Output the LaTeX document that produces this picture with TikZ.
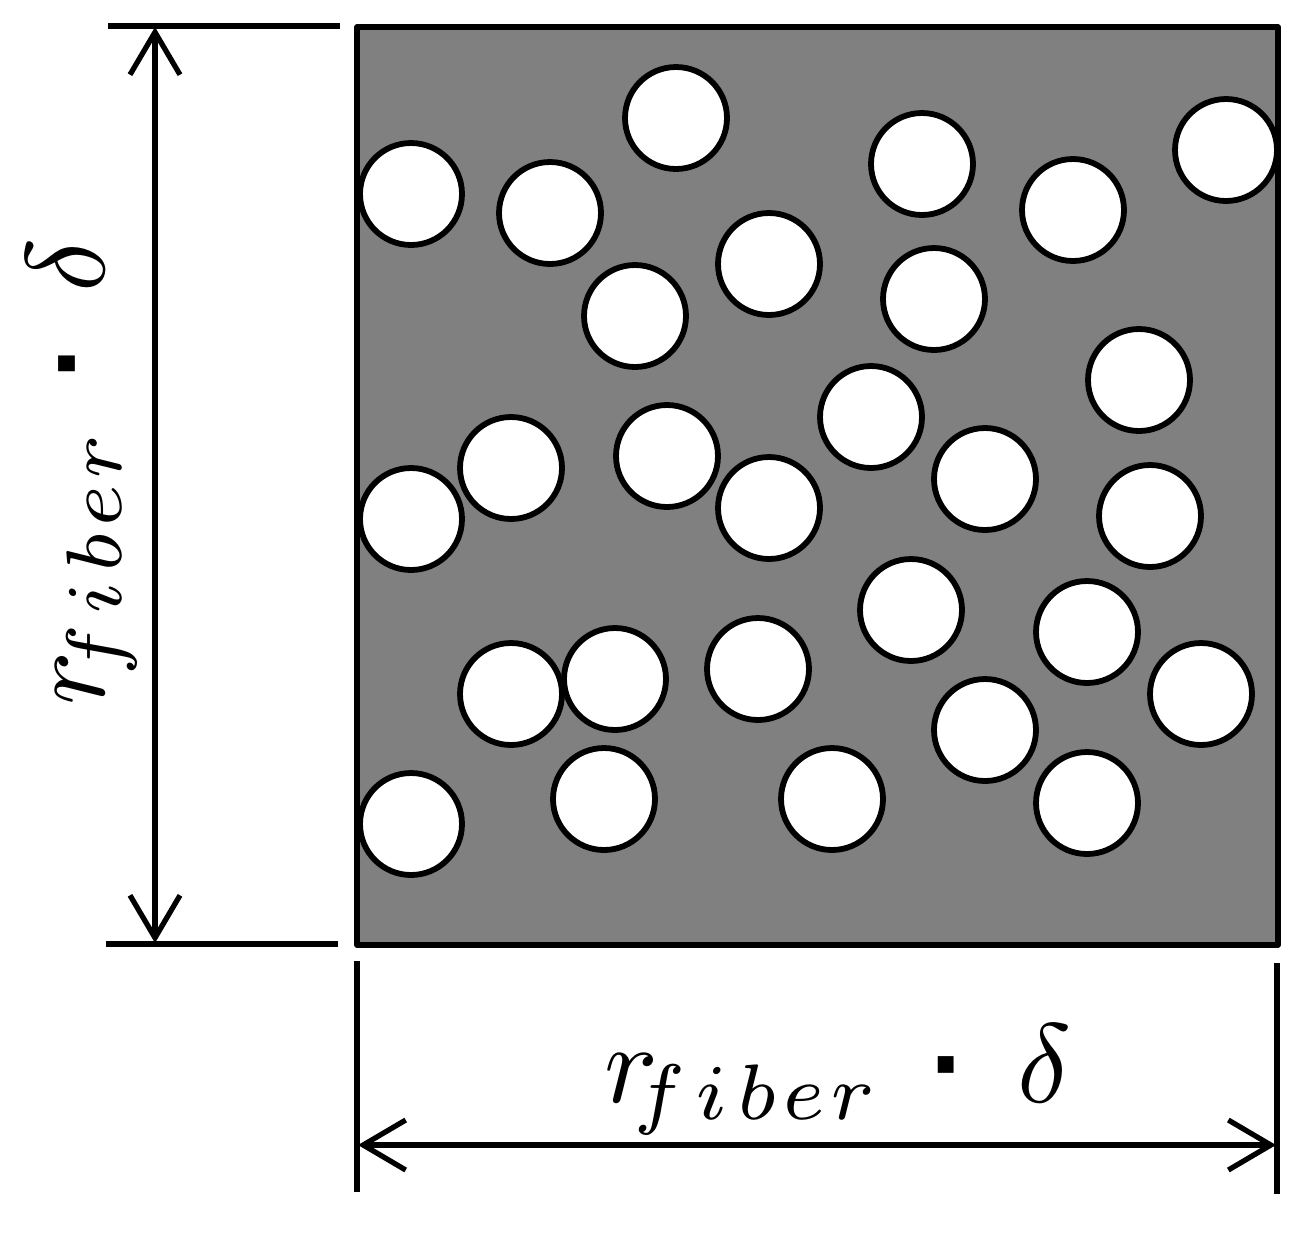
\documentclass[tikz,border=0pt]{standalone}
\usepackage{fontspec}
\newfontfamily\dotfont{Liberation Sans}
\usetikzlibrary{arrows.meta}
\newcommand{\dimtext}{$r\mkern-4mu_{f\mkern2mu i\mkern2mu b\mkern1mu e\mkern1mu r}\mkern8mu\mbox{\dotfont\bfseries ·}\mkern8mu\delta$}
\tikzset{
    fiber/.style={circle,draw,fill=white,line width=3.3pt,inner sep=0pt,minimum size=2.04cm},
    dimline/.style={line width=3pt},
    dimarrow/.style={line width=3pt,{Straight Barb[length=0.85cm,width=1cm]}-{Straight Barb[length=0.85cm,width=1cm]}},
    dimlabel/.style={inner sep=0pt,scale=6.4}
}
\begin{document}
\begin{tikzpicture}[x=0.02cm,y=-0.02cm]
        \useasboundingbox (0,0) rectangle (1304,1232);
        \draw[dimline,fill={rgb,255:red,128;green,128;blue,128},line join=round] (357,27) rectangle (1278,945);

        \node[fiber] (f1) at (676,118) {};
        \node[fiber] (f2) at (922,164) {};
        \node[fiber] (f3) at (1073,210) {};
        \node[fiber] (f4) at (1226,150) {};
        \node[fiber] (f5) at (411,194) {};
        \node[fiber] (f6) at (550,213) {};
        \node[fiber] (f7) at (769,264) {};
        \node[fiber] (f8) at (934,299) {};
        \node[fiber] (f9) at (635,316) {};
        \node[fiber] (f10) at (1139,380) {};
        \node[fiber] (f11) at (871,417) {};
        \node[fiber] (f12) at (667,456) {};
        \node[fiber] (f13) at (511,468) {};
        \node[fiber] (f14) at (985,479) {};
        \node[fiber] (f15) at (769,508) {};
        \node[fiber] (f16) at (411,519) {};
        \node[fiber] (f17) at (1150,516) {};
        \node[fiber] (f18) at (911,610) {};
        \node[fiber] (f19) at (1087,632) {};
        \node[fiber] (f20) at (615,679) {};
        \node[fiber] (f21) at (511,694) {};
        \node[fiber] (f22) at (758,669) {};
        \node[fiber] (f23) at (1201,694) {};
        \node[fiber] (f24) at (985,730) {};
        \node[fiber] (f25) at (604,799) {};
        \node[fiber] (f26) at (832,799) {};
        \node[fiber] (f27) at (1087,803) {};
        \node[fiber] (f28) at (411,824) {};

        \coordinate (topa) at (108,26);
        \coordinate (topb) at (340,26);
        \coordinate (bota) at (106,944);
        \coordinate (botb) at (338,944);
        \coordinate (lefta) at (357,961);
        \coordinate (leftb) at (357,1192);
        \coordinate (righta) at (1277,963);
        \coordinate (rightb) at (1277,1194);
        \coordinate (vtop) at (155,27);
        \coordinate (vbot) at (155,943);
        \coordinate (hleft) at (358,1145);
        \coordinate (hright) at (1276,1145);

        \draw[dimline] (topa) -- (topb);
        \draw[dimline] (bota) -- (botb);
        \draw[dimline] (lefta) -- (leftb);
        \draw[dimline] (righta) -- (rightb);
        \draw[dimarrow] (vtop) -- (vbot);
        \draw[dimarrow] (hleft) -- (hright);

        \node[dimlabel] (hlabel) at (838,1080) {\dimtext};
        \node[dimlabel,rotate=90] (vlabel) at (82,472) {\dimtext};
\end{tikzpicture}
\end{document}
